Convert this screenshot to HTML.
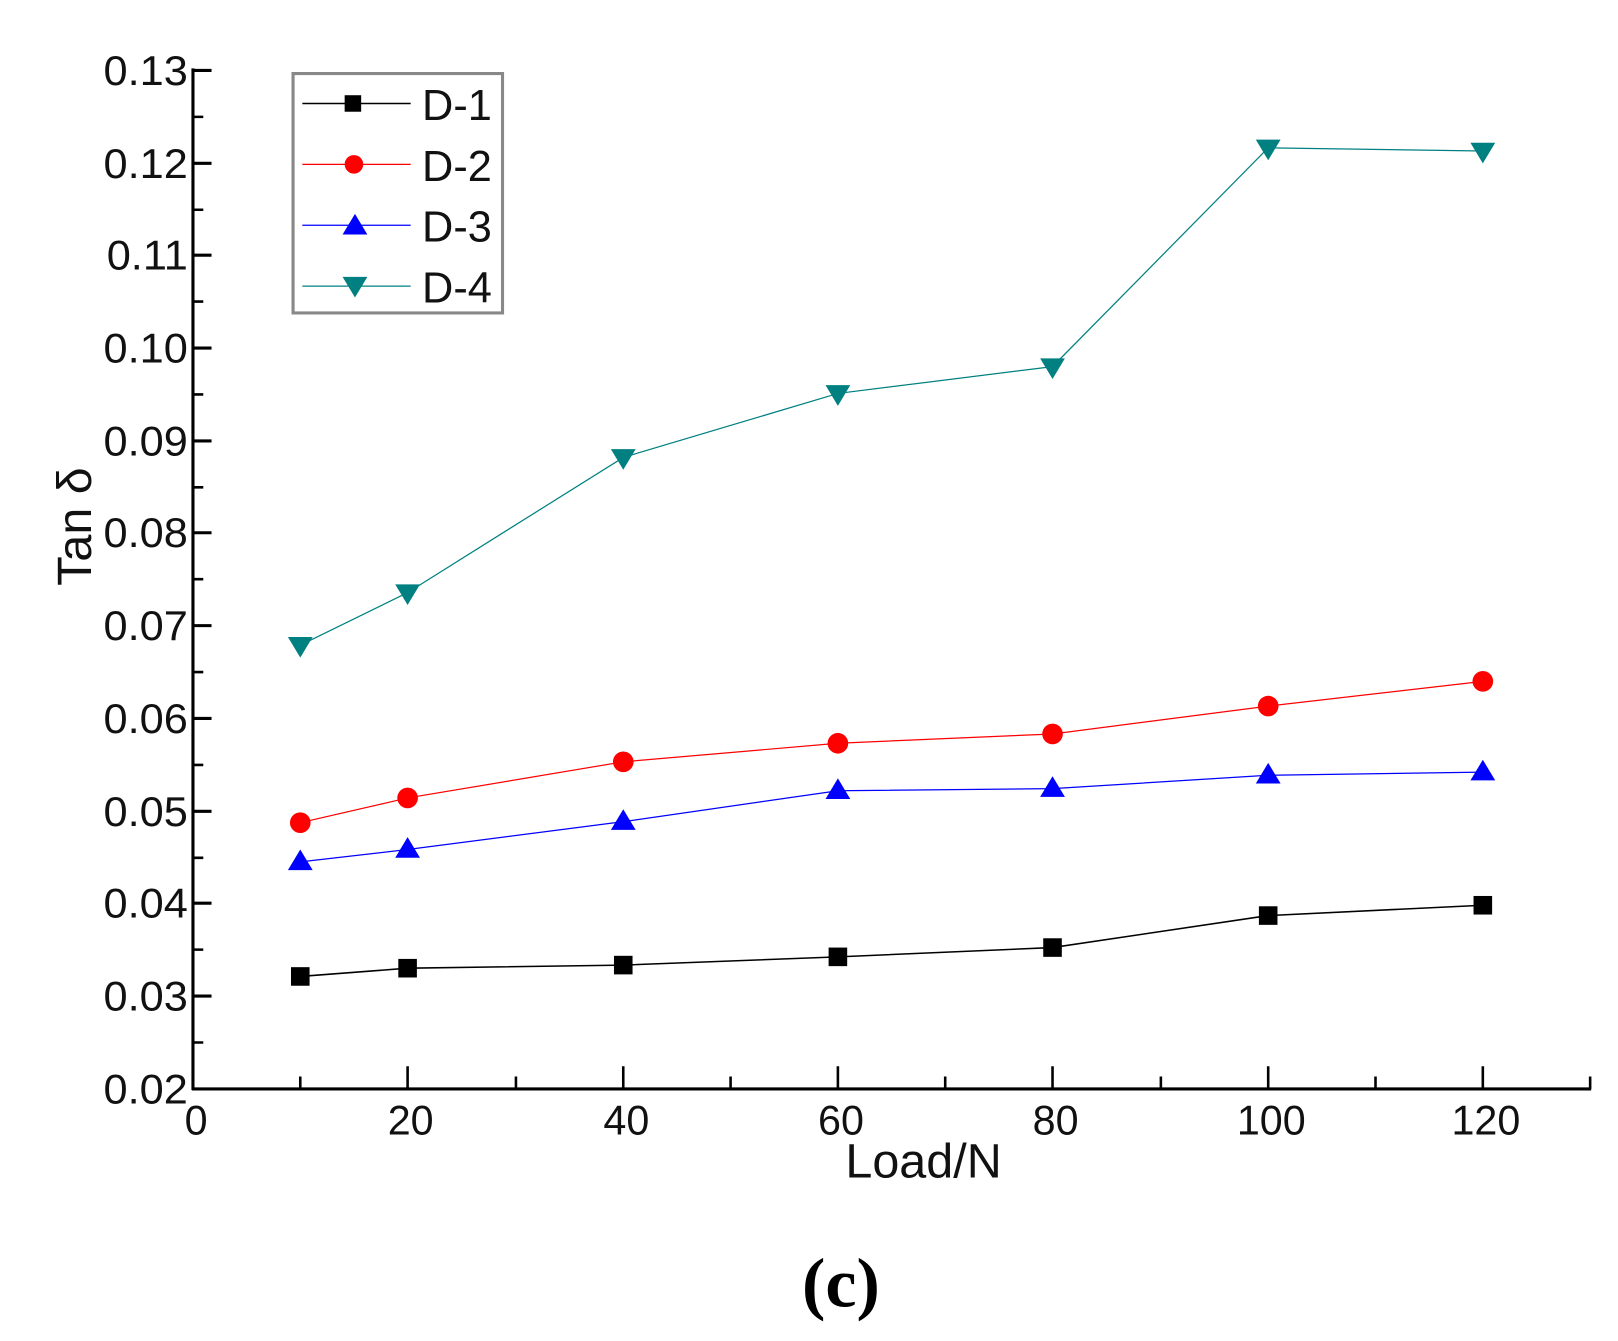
<!DOCTYPE html>
<html><head><meta charset="utf-8"><style>html,body{margin:0;padding:0;background:#fff}svg{display:block}</style></head>
<body>
<svg width="1618" height="1341" viewBox="0 0 1568 1299" xmlns="http://www.w3.org/2000/svg" font-family="Liberation Sans, sans-serif">
<rect width="1568" height="1299" fill="#fff"/>
<g stroke="#000" stroke-width="3" fill="none">
<line x1="187" y1="66" x2="187" y2="1056"/>
<line x1="186" y1="1055" x2="1542" y2="1055"/>
<path d="M187 68h18M187 158h18M187 247h18M187 337h18M187 427h18M187 516h18M187 606h18M187 696h18M187 786h18M187 875h18M187 965h18"/>
<path d="M187 113h10M187 203h10M187 292h10M187 382h10M187 472h10M187 561h10M187 651h10M187 741h10M187 831h10M187 920h10M187 1010h10" stroke-width="2.5"/>
<path d="M395 1055v-22M604 1055v-22M812 1055v-22M1020 1055v-22M1229 1055v-22M1437 1055v-22" stroke-width="2.5"/>
<path d="M291 1055v-12M500 1055v-12M708 1055v-12M916 1055v-12M1125 1055v-12M1333 1055v-12M1541 1055v-12" stroke-width="2.5"/>
</g>
<g font-size="40" text-anchor="end" fill="#111" transform="translate(182,0) scale(1.05,1) translate(-182,0)">
<text x="182" y="82">0.13</text><text x="182" y="172">0.12</text><text x="182" y="261">0.11</text><text x="182" y="351">0.10</text><text x="182" y="441">0.09</text><text x="182" y="530">0.08</text><text x="182" y="620">0.07</text><text x="182" y="710">0.06</text><text x="182" y="800">0.05</text><text x="182" y="889">0.04</text><text x="182" y="979">0.03</text><text x="182" y="1069">0.02</text>
</g>
<g font-size="40" text-anchor="middle" fill="#111">
<text x="190" y="1099">0</text><text x="398" y="1099">20</text><text x="607" y="1099">40</text><text x="815" y="1099">60</text><text x="1023" y="1099">80</text><text x="1232" y="1099">100</text><text x="1440" y="1099">120</text>
</g>
<text x="895" y="1141" font-size="47" text-anchor="middle" fill="#111">Load/N</text>
<text transform="translate(88,510) rotate(-90)" font-size="47" text-anchor="middle" fill="#111">Tan δ</text>
<text x="815" y="1266" font-size="68" text-anchor="middle" font-family="Liberation Serif, serif" font-weight="bold">(c)</text>
<polyline fill="none" stroke="#000" stroke-width="1.5" points="291,946 395,938 604,935 812,927 1020,918 1229,887 1437,877"/>
<polyline fill="none" stroke="#f00" stroke-width="1.2" points="291,797 395,773 604,738 812,720 1020,711 1229,684 1437,660"/>
<polyline fill="none" stroke="#00f" stroke-width="1.2" points="291,835 395,823 604,796 812,766 1020,764 1229,751 1437,748"/>
<polyline fill="none" stroke="#008080" stroke-width="1.2" points="291,625 395,574 604,443 812,381 1020,355 1229,143 1437,146"/>
<g fill="#000">
<rect x="282" y="937" width="18" height="18"/><rect x="386" y="929" width="18" height="18"/><rect x="595" y="926" width="18" height="18"/><rect x="803" y="918" width="18" height="18"/><rect x="1011" y="909" width="18" height="18"/><rect x="1220" y="878" width="18" height="18"/><rect x="1428" y="868" width="18" height="18"/>
</g>
<g fill="#f00">
<circle cx="291" cy="797" r="10"/><circle cx="395" cy="773" r="10"/><circle cx="604" cy="738" r="10"/><circle cx="812" cy="720" r="10"/><circle cx="1020" cy="711" r="10"/><circle cx="1229" cy="684" r="10"/><circle cx="1437" cy="660" r="10"/>
</g>
<g fill="#00f">
<path d="M291 823l12 20h-24zM395 811l12 20h-24zM604 784l12 20h-24zM812 754l12 20h-24zM1020 752l12 20h-24zM1229 739l12 20h-24zM1437 736l12 20h-24z"/>
</g>
<g fill="#008080">
<path d="M291 637l12-20h-24zM395 586l12-20h-24zM604 455l12-20h-24zM812 393l12-20h-24zM1020 367l12-20h-24zM1229 155l12-20h-24zM1437 158l12-20h-24z"/>
</g>
<rect x="284" y="71" width="203" height="232" fill="#fff" stroke="#888" stroke-width="3"/>
<line x1="293" y1="100" x2="398" y2="100" stroke="#000" stroke-width="1.5"/><rect x="334" y="92" width="16" height="16"/>
<line x1="293" y1="159" x2="398" y2="159" stroke="#f00" stroke-width="1.2"/><circle cx="343" cy="159" r="9" fill="#f00"/>
<line x1="293" y1="218" x2="398" y2="218" stroke="#00f" stroke-width="1.2"/><path d="M344 207l12 20h-24z" fill="#00f"/>
<line x1="293" y1="277" x2="398" y2="277" stroke="#008080" stroke-width="1.2"/><path d="M344 288l12-20h-24z" fill="#008080"/>
<g font-size="42" fill="#111">
<text x="409" y="116">D-1</text><text x="409" y="175">D-2</text><text x="409" y="234">D-3</text><text x="409" y="293">D-4</text>
</g>
</svg>
</body></html>
